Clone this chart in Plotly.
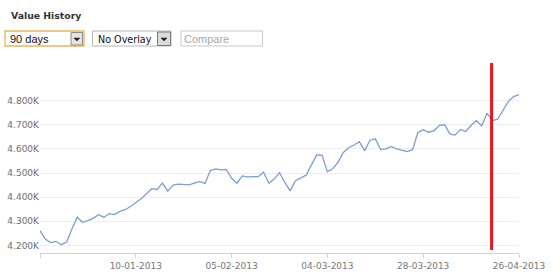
import plotly.graph_objects as go

# ---- data ----
values = [4261, 4226, 4212, 4217, 4203, 4214, 4268, 4317, 4295, 4303,
          4312, 4328, 4316, 4332, 4328, 4341, 4348, 4361, 4378, 4393,
          4414, 4435, 4432, 4458, 4425, 4450, 4454, 4451, 4451, 4458,
          4464, 4457, 4510, 4517, 4513, 4515, 4478, 4458, 4488, 4484,
          4485, 4485, 4504, 4458, 4475, 4502, 4461, 4426, 4468, 4479,
          4491, 4534, 4575, 4574, 4505, 4518, 4545, 4585, 4605, 4616,
          4630, 4593, 4636, 4642, 4597, 4600, 4610, 4600, 4595, 4589,
          4597, 4668, 4679, 4669, 4675, 4697, 4701, 4662, 4657, 4680,
          4672, 4698, 4717, 4695, 4748, 4717, 4723, 4762, 4797, 4817,
          4825]
index = list(range(len(values)))

x_tick_positions = [0, 18, 36, 54, 72, 90]
x_tick_labels = ["", "10-01-2013", "05-02-2013", "04-03-2013", "28-03-2013", "26-04-2013"]
y_tick_values = [4200, 4300, 4400, 4500, 4600, 4700, 4800]
y_tick_labels = ["4.200K", "4.300K", "4.400K", "4.500K", "4.600K", "4.700K", "4.800K"]
marker_index = 84.85

# ---- layout geometry (pixels) ----
W, H = 560, 280
L, R, T, B = 40, 519, 63, 253


def px(x):
    return (x - L) / (R - L)


def py(y):
    return (B - y) / (B - T)


fig = go.Figure()
fig.add_trace(go.Scatter(x=index, y=values, mode="lines",
                         line=dict(color="#7c9fd0", width=1.3),
                         hoverinfo="skip", showlegend=False))

shapes = []
annotations = []

# red marker line
shapes.append(dict(type="line", xref="x", yref="paper",
                   x0=marker_index, x1=marker_index, y0=py(250), y1=1.0,
                   line=dict(color="#e8141c", width=3)))


def box(x0, y0, x1, y1, border, fill="#ffffff", width=1):
    shapes.append(dict(type="rect", xref="paper", yref="paper",
                       x0=px(x0), x1=px(x1), y0=py(y1), y1=py(y0),
                       line=dict(color=border, width=width), fillcolor=fill,
                       layer="above"))


def arrow(cx, cy):
    path = "M {} {} L {} {} L {} {} Z".format(
        px(cx - 3), py(cy - 1.5), px(cx + 3), py(cy - 1.5), px(cx), py(cy + 1.5))
    shapes.append(dict(type="path", xref="paper", yref="paper", path=path,
                       fillcolor="#222222", line=dict(color="#222222", width=0.5),
                       layer="above"))


# dropdown 1
box(5, 31, 84, 46, "#e9b65a", width=1.3)
box(71, 32.5, 82.5, 45, "#8c8c8c", fill="#e4e4e4")
arrow(76.8, 39.5)
# dropdown 2
box(92.5, 31, 171, 46, "#b5b5b5")
box(157.5, 32, 170.5, 45.5, "#7a7a7a", fill="#dcdcdc")
arrow(164, 39.5)
# compare input
box(181, 31, 262.5, 46, "#c8c8c8")


def text(x, y, s, size, color, family="Liberation Sans, Arial", bold=False):
    annotations.append(dict(xref="paper", yref="paper", x=px(x), y=py(y),
                            text=("<b>%s</b>" % s) if bold else s,
                            showarrow=False, xanchor="left", yanchor="middle",
                            font=dict(size=size, color=color, family=family)))


text(9, 15, "Value History", 9.3, "#333333", family="DejaVu Sans", bold=True)
text(8, 39, "90 days", 11, "#111111")
text(96, 39, "No Overlay", 9.6, "#111111", family="DejaVu Sans")
text(182, 39, "Compare", 11, "#a8a8a8")

fig.update_layout(
    width=W, height=H,
    margin=dict(l=L, r=W - R, t=T, b=H - B, pad=0),
    paper_bgcolor="#ffffff", plot_bgcolor="#ffffff",
    shapes=shapes, annotations=annotations,
    xaxis=dict(range=[0, 90], tickvals=x_tick_positions, ticktext=x_tick_labels,
               showgrid=False, zeroline=False, showline=True, linecolor="#d4d4d4",
               linewidth=1, ticks="outside", ticklen=4, tickcolor="#d4d4d4",
               tickfont=dict(family="DejaVu Sans", size=9, color="#777777"),
               fixedrange=True, automargin=False),
    yaxis=dict(range=[4168.6, 4956], tickvals=y_tick_values, ticktext=y_tick_labels,
               showgrid=True, gridcolor="#ededed", gridwidth=1, zeroline=False,
               showline=False, ticks="", automargin=False,
               tickfont=dict(family="DejaVu Sans", size=9, color="#6e6e6e"),
               fixedrange=True),
)

fig.write_html("out.html", config={"displayModeBar": False})
